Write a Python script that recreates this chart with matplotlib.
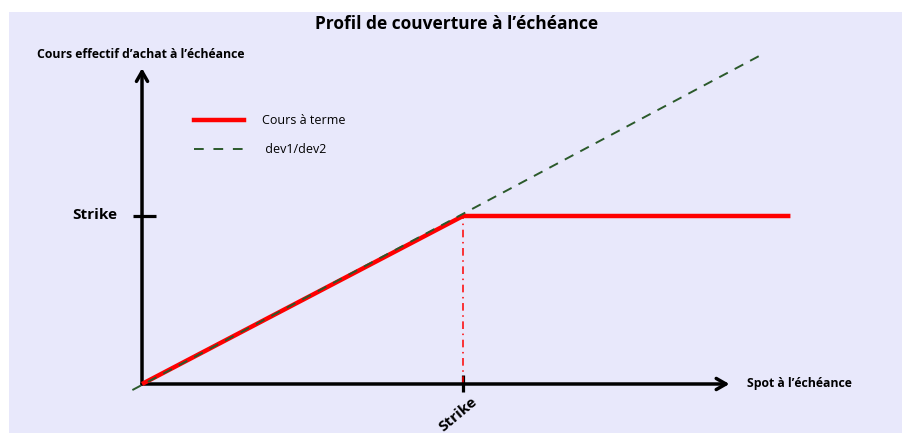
import matplotlib
matplotlib.use("Agg")
import matplotlib.pyplot as plt
from matplotlib.patches import Rectangle
from matplotlib.lines import Line2D

# Data (strike normalised to 1)
strike = 1.0
hedge_x = [0.0, 1.0, 2.02]          # Cours à terme
hedge_y = [0.0, 1.0, 1.0]
ref_x = [-0.03, 1.93]               # dev1/dev2
ref_y = [-0.036, 1.96]
title = "Profil de couverture à l’échéance"
ylabel = "Cours effectif d’achat à l’échéance"
xlabel = "Spot à l’échéance"
labels = ["Cours à terme", " dev1/dev2"]

W, H = 903, 433
fig = plt.figure(figsize=(W / 100, H / 100), dpi=100, facecolor="white")
bg = "#E8E8FB"
fig.patches.append(Rectangle((9 / W, 0), 1 - 9 / W, 1 - 12 / H, transform=fig.transFigure,
                             facecolor=bg, edgecolor="none", zorder=0))
ax = fig.add_axes([0, 0, 1, 1])
ax.set_zorder(2)
ax.set_facecolor("none")
ax.set_xlim(-0.4424, 2.3707)
ax.set_ylim(-0.2917, 2.2857)
ax.axis("off")

fam = ["Open Sans", "DejaVu Sans"]

# axes arrows
arrow = dict(arrowstyle="->,head_length=0.7,head_width=0.4", color="black", lw=2.5,
             shrinkA=0, shrinkB=0)
ax.annotate("", xy=(0, 1.88), xytext=(0, 0), arrowprops=arrow)
ax.annotate("", xy=(1.83, 0), xytext=(0, 0), arrowprops=arrow)

# strike ticks
ax.plot([-0.028, 0.044], [strike, strike], color="black", lw=2.3, solid_capstyle="butt")
ax.plot([strike, strike], [-0.048, 0.054], color="black", lw=2.3, solid_capstyle="butt")
ax.plot([strike, strike], [0, strike], color="red", lw=1.1, ls="-.", dashes=(5, 3, 1, 3))

# lines
l1, = ax.plot(hedge_x, hedge_y, color="red", lw=3.2, solid_capstyle="butt", zorder=3)
l2, = ax.plot(ref_x, ref_y, color="#2B5A2B", lw=1.4, ls=(0, (5, 4)), zorder=4)

# texts
fig.text(457 / W, 1 - 24 / H, title, ha="center", va="center", fontsize=12.5, fontweight="bold",
         family=fam, zorder=3)
fig.text(37 / W, 1 - 54 / H, ylabel, ha="left", va="center", fontsize=8.8, fontweight="bold",
         family=fam, zorder=3)
fig.text(747 / W, 1 - 384 / H, xlabel, ha="left", va="center", fontsize=8.8, fontweight="bold",
         family=fam, zorder=3)
fig.text(95 / W, 1 - 215 / H, "Strike", ha="center", va="center", fontsize=11, fontweight="bold",
         family=fam, zorder=3)
fig.text(458 / W, 1 - 414 / H, "Strike", ha="center", va="center", fontsize=11, fontweight="bold",
         family=fam, rotation=40, zorder=3)

# legend
h1 = Line2D([], [], color="red", lw=3.2)
h2 = Line2D([], [], color="#2B5A2B", lw=1.4, ls=(0, (5, 5)))
leg = ax.legend([h1, h2], labels, loc="upper left", bbox_to_anchor=(183 / W, 1 - 103 / H),
                bbox_transform=fig.transFigure, frameon=False, handlelength=4.0,
                handletextpad=1.4, labelspacing=1.25, prop=dict(family=fam, size=9))

fig.savefig("out.png", dpi=100, facecolor="white")
